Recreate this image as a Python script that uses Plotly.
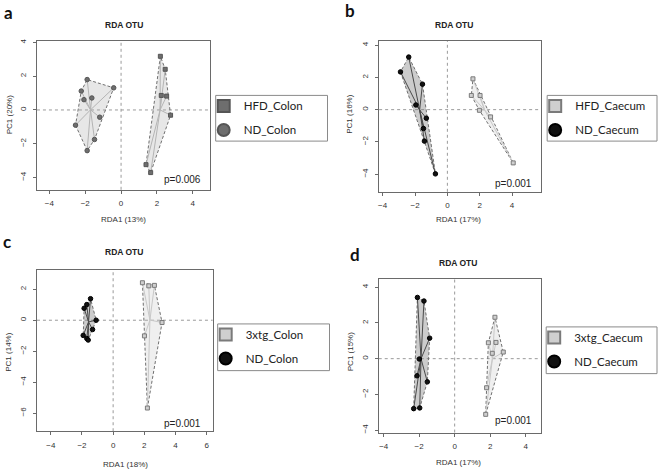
import plotly.graph_objects as go

# ---------------- data ----------------
# panel a
a_names = ["HFD_Colon", "ND_Colon"]
a_g1_x = [2.19, 2.46, 2.24, 2.54, 2.76, 1.39, 1.65]
a_g1_y = [3.18, 2.41, 0.86, 0.82, -0.31, -3.24, -3.71]
a_g2_x = [-1.89, -2.22, -2.07, -1.63, -0.41, -1.19, -2.54, -1.48, -1.89]
a_g2_y = [1.80, 1.12, 0.61, 0.71, 1.31, -0.43, -0.90, -1.75, -2.41]
a_xlab, a_ylab, a_p = "RDA1 (13%)", "PC1 (20%)", "p=0.006"

# panel b
b_names = ["HFD_Caecum", "ND_Caecum"]
b_g1_x = [1.58, 1.48, 2.02, 1.98, 2.67, 4.07]
b_g1_y = [1.91, 0.88, 0.88, -0.04, -0.45, -3.30]
b_g2_x = [-2.39, -2.90, -1.54, -1.95, -1.30, -1.48, -1.42, -0.74]
b_g2_y = [3.26, 2.34, 1.58, 0.29, -0.53, -1.17, -1.95, -3.98]
b_xlab, b_ylab, b_p = "RDA1 (17%)", "PC1 (16%)", "p=0.001"

# panel c
c_names = ["3xtg_Colon", "ND_Colon"]
c_g1_x = [1.88, 2.29, 2.65, 3.14, 2.01, 2.20]
c_g1_y = [2.42, 2.22, 2.25, -0.15, -1.01, -5.67]
c_g2_x = [-1.45, -1.69, -1.86, -1.09, -1.32, -1.92, -1.69, -1.60]
c_g2_y = [1.39, 1.01, 0.77, 0.00, -0.60, -0.98, -1.18, -1.28]
c_xlab, c_ylab, c_p = "RDA1 (18%)", "PC1 (14%)", "p=0.001"

# panel d
d_names = ["3xtg_Caecum", "ND_Caecum"]
d_g1_x = [2.27, 1.90, 2.33, 2.74, 2.12, 1.80, 1.75]
d_g1_y = [2.32, 0.89, 0.91, 0.37, 0.30, -1.63, -3.12]
d_g2_x = [-2.10, -1.73, -1.41, -1.99, -2.12, -1.54, -1.97, -2.31]
d_g2_y = [3.43, 3.23, 1.15, -0.02, -0.96, -1.30, -2.76, -2.80]
d_xlab, d_ylab, d_p = "RDA1 (17%)", "PC1 (15%)", "p=0.001"

ticks_ab = [-4, -2, 0, 2, 4]
ticks_c_x = [-4, -2, 0, 2, 4, 6]
ticks_c_y = [-6, -4, -2, 0, 2]
title_text = "RDA OTU"
letters = ["a", "b", "c", "d"]

W, H = 660, 471


def px(x):
    return x / W


def py(y):
    return 1 - y / H


def hull(xs, ys):
    pts = sorted(set(zip(xs, ys)))

    def cross(o, a, b):
        return (a[0] - o[0]) * (b[1] - o[1]) - (a[1] - o[1]) * (b[0] - o[0])

    lower = []
    for p in pts:
        while len(lower) >= 2 and cross(lower[-2], lower[-1], p) <= 0:
            lower.pop()
        lower.append(p)
    upper = []
    for p in reversed(pts):
        while len(upper) >= 2 and cross(upper[-2], upper[-1], p) <= 0:
            upper.pop()
        upper.append(p)
    h = lower[:-1] + upper[:-1]
    h.append(h[0])
    return [p[0] for p in h], [p[1] for p in h]


def spider(xs, ys):
    cx = sum(xs) / len(xs)
    cy = sum(ys) / len(ys)
    sx, sy = [], []
    for x, y in zip(xs, ys):
        sx += [cx, x, None]
        sy += [cy, y, None]
    return sx, sy


# style sets
sty_a1 = dict(symbol="square", fill="#6e6e6e", edge="#555555", hull="rgba(170,170,170,0.28)", spider="#b4b4b4")
sty_a2 = dict(symbol="circle", fill="#6e6e6e", edge="#555555", hull="rgba(170,170,170,0.28)", spider="#b4b4b4")
sty_l1 = dict(symbol="square", fill="#cfcfcf", edge="#7a7a7a", hull="rgba(190,190,190,0.25)", spider="#c8c8c8")
sty_k2 = dict(symbol="circle", fill="#111111", edge="#000000", hull="rgba(120,120,120,0.38)", spider="#4a4a4a")

panels = [
    dict(names=a_names, g1=(a_g1_x, a_g1_y), g2=(a_g2_x, a_g2_y), s1=sty_a1, s2=sty_a2,
         xlab=a_xlab, ylab=a_ylab, p=a_p, box=(36, 39, 209, 189),
         xr=[-4.69, 4.94], yr=[-4.73, 4.10], xt=ticks_ab, yt=ticks_ab,
         title=(123, 23), letter=(8, 11), xtitle=(123, 219), ytitle=(8, 113),
         ptext=(202, 179), leg=(215, 94, 327, 140)),
    dict(names=b_names, g1=(b_g1_x, b_g1_y), g2=(b_g2_x, b_g2_y), s1=sty_l1, s2=sty_k2,
         xlab=b_xlab, ylab=b_ylab, p=b_p, box=(378.7, 39, 540.7, 191),
         xr=[-4.22, 5.78], yr=[-5.09, 4.27], xt=ticks_ab, yt=ticks_ab,
         title=(454, 23), letter=(350, 9), xtitle=(458, 219), ytitle=(349, 113),
         ptext=(534, 183), leg=(547, 94, 657, 140)),
    dict(names=c_names, g1=(c_g1_x, c_g1_y), g2=(c_g2_x, c_g2_y), s1=sty_l1, s2=sty_k2,
         xlab=c_xlab, ylab=c_ylab, p=c_p, box=(36, 269.3, 212, 432),
         xr=[-4.89, 6.39], yr=[-7.17, 3.27], xt=ticks_c_x, yt=ticks_c_y,
         title=(123, 252), letter=(6, 241), xtitle=(125, 465), ytitle=(8, 352),
         ptext=(202, 424), leg=(217, 324, 329, 371)),
    dict(names=d_names, g1=(d_g1_x, d_g1_y), g2=(d_g2_x, d_g2_y), s1=sty_l1, s2=sty_k2,
         xlab=d_xlab, ylab=d_ylab, p=d_p, box=(378.3, 278.3, 540.7, 433.3),
         xr=[-4.28, 4.86], yr=[-4.14, 4.49], xt=ticks_ab, yt=ticks_ab,
         title=(458, 263), letter=(355, 254), xtitle=(458, 463), ytitle=(350, 352),
         ptext=(534, 421), leg=(546, 327, 657, 374)),
]

fig = go.Figure()
shapes = []
annotations = []
layout = {}

for i, P in enumerate(panels, start=1):
    sfx = "" if i == 1 else str(i)
    xa, ya = "x" + sfx, "y" + sfx
    legname = "legend" + sfx
    l, t, r, b = P["box"]

    # hulls
    for (gx, gy), s in ((P["g1"], P["s1"]), (P["g2"], P["s2"])):
        hx, hy = hull(gx, gy)
        fig.add_trace(go.Scatter(x=hx, y=hy, mode="lines", fill="toself", fillcolor=s["hull"],
                                 line=dict(color="#707070", width=1, dash="3px,2px"),
                                 xaxis=xa, yaxis=ya, showlegend=False, hoverinfo="skip"))
    # spiders
    for (gx, gy), s in ((P["g1"], P["s1"]), (P["g2"], P["s2"])):
        sx, sy = spider(gx, gy)
        fig.add_trace(go.Scatter(x=sx, y=sy, mode="lines", line=dict(color=s["spider"], width=1),
                                 xaxis=xa, yaxis=ya, showlegend=False, hoverinfo="skip"))
    # points
    for (gx, gy), s, nm in ((P["g1"], P["s1"], P["names"][0]), (P["g2"], P["s2"], P["names"][1])):
        fig.add_trace(go.Scatter(x=gx, y=gy, mode="markers", name=nm,
                                 marker=dict(symbol=s["symbol"], size=4.5 if s["symbol"] == "circle" else 4,
                                             color=s["fill"], line=dict(color=s["edge"], width=1)),
                                 xaxis=xa, yaxis=ya, showlegend=False))
    # legend entries
    for k, (s, nm) in enumerate(((P["s1"], P["names"][0]), (P["s2"], P["names"][1]))):
        fig.add_trace(go.Scatter(x=[None], y=[None], mode="markers", name=nm,
                                 marker=dict(symbol=s["symbol"], size=12, color=s["fill"],
                                             line=dict(color=s["edge"], width=1)),
                                 xaxis=xa, yaxis=ya, legend=legname, legendgroup=f"{i}-{k}",
                                 showlegend=True))

    axis_common = dict(showgrid=False, zeroline=False, showline=True, mirror=True,
                       linecolor="#6a6a6a", linewidth=1, ticks="outside", ticklen=3,
                       tickcolor="#6a6a6a", tickfont=dict(family="Liberation Sans", size=8, color="#333333"))
    layout["xaxis" + sfx] = dict(axis_common, domain=[px(l), px(r)], range=P["xr"], tickvals=P["xt"],
                                 anchor=ya, ticklabelstandoff=3)
    layout["yaxis" + sfx] = dict(axis_common, domain=[py(b), py(t)], range=P["yr"], tickvals=P["yt"],
                                 anchor=xa, tickangle=-90, ticklabelstandoff=4)

    layout[legname] = dict(x=px(P["leg"][0] - 12), y=py(P["leg"][1] - 4), xanchor="left", yanchor="top",
                           bgcolor="rgba(0,0,0,0)", borderwidth=0, itemsizing="constant",
                           tracegroupgap=5, font=dict(family="Lato", size=11.5, color="#222222"))

    # legend box
    L0, T0, R0, B0 = P["leg"]
    shapes.append(dict(type="rect", xref="paper", yref="paper", x0=px(L0), x1=px(R0), y0=py(B0), y1=py(T0),
                       line=dict(color="#8a8a8a", width=1), fillcolor="rgba(0,0,0,0)"))
    # zero lines
    shapes.append(dict(type="line", xref=xa, yref=ya + " domain", x0=0, x1=0, y0=0, y1=1,
                       line=dict(color="#9a9a9a", width=1, dash="dot"), layer="below"))
    shapes.append(dict(type="line", xref=xa + " domain", yref=ya, x0=0, x1=1, y0=0, y1=0,
                       line=dict(color="#9a9a9a", width=1, dash="dot"), layer="below"))

    # texts
    annotations.append(dict(text="<b>" + title_text + "</b>", x=px(P["title"][0]), y=py(P["title"][1]),
                            xref="paper", yref="paper", showarrow=False, xanchor="center", yanchor="middle",
                            font=dict(family="Liberation Sans", size=8.5, color="#222222")))
    annotations.append(dict(text="<b>" + letters[i - 1] + "</b>", x=px(P["letter"][0]), y=py(P["letter"][1]),
                            xref="paper", yref="paper", showarrow=False, xanchor="center", yanchor="middle",
                            font=dict(family="Lato", size=17, color="#111111")))
    annotations.append(dict(text=P["xlab"], x=px(P["xtitle"][0]), y=py(P["xtitle"][1]),
                            xref="paper", yref="paper", showarrow=False, xanchor="center", yanchor="middle",
                            font=dict(family="Liberation Sans", size=8, color="#333333")))
    annotations.append(dict(text=P["ylab"], x=px(P["ytitle"][0]), y=py(P["ytitle"][1]), textangle=-90,
                            xref="paper", yref="paper", showarrow=False, xanchor="center", yanchor="middle",
                            font=dict(family="Liberation Sans", size=8, color="#333333")))
    annotations.append(dict(text=P["p"], x=px(P["ptext"][0]), y=py(P["ptext"][1]),
                            xref="paper", yref="paper", showarrow=False, xanchor="right", yanchor="middle",
                            font=dict(family="Liberation Sans", size=10, color="#222222")))

fig.update_layout(width=W, height=H, autosize=False, margin=dict(l=0, r=0, t=0, b=0),
                  paper_bgcolor="white", plot_bgcolor="white", shapes=shapes, annotations=annotations,
                  **layout)

fig.write_html("out.html", config={"displayModeBar": False},
               post_script="document.body.style.margin='0';document.body.style.overflow='hidden';")
